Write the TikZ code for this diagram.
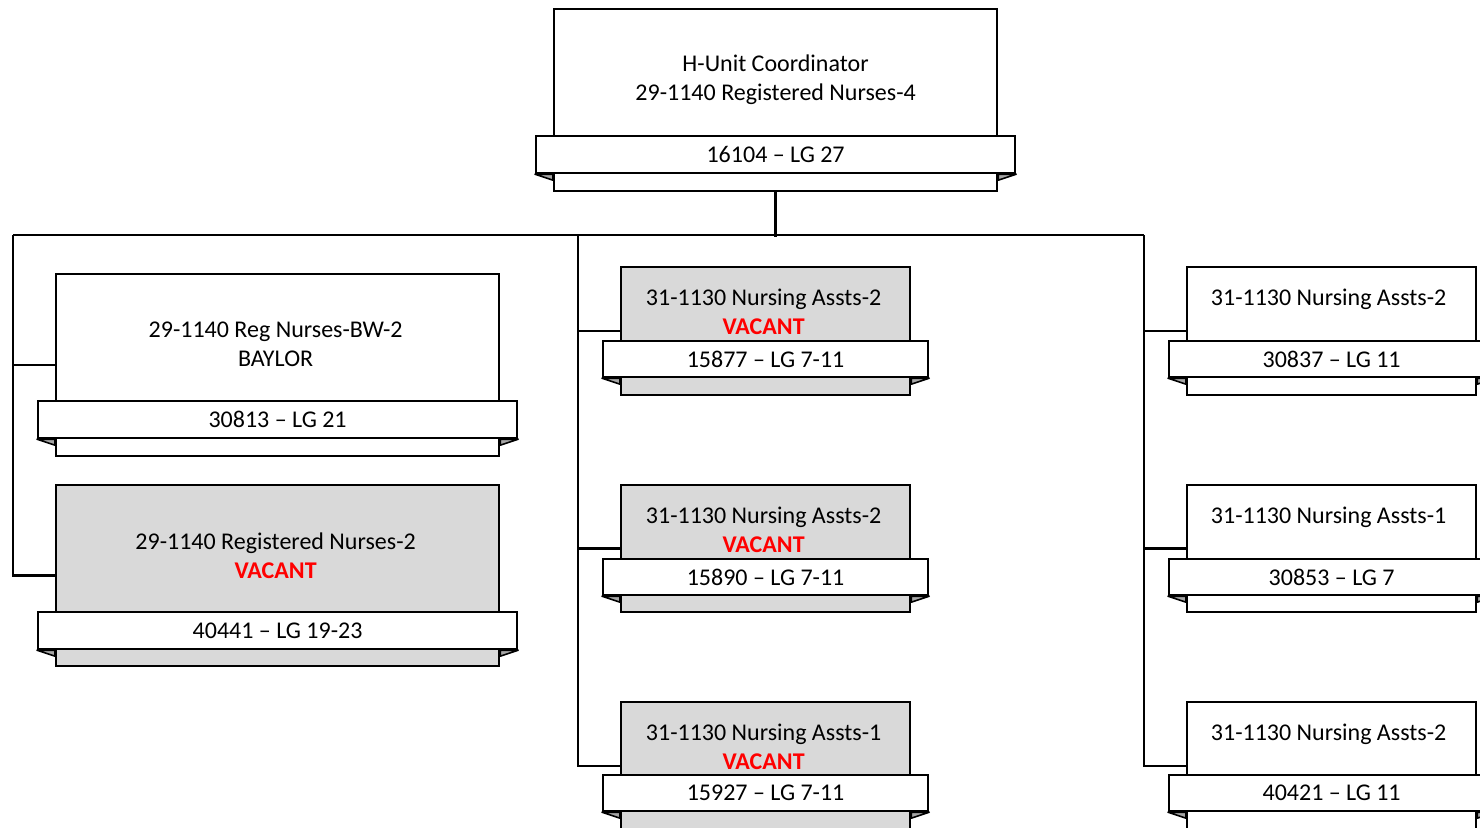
\documentclass[tikz,border=0pt]{standalone}
\usepackage{fontspec}
\setmainfont{Carlito}
\usetikzlibrary{calc}

\definecolor{cardgray}{HTML}{D9D9D9}
\definecolor{foldgray}{HTML}{A6A6A6}
\definecolor{vacred}{HTML}{FF0000}
\newcommand\vacant{\textcolor{vacred}{\bfseries VACANT}}
% little folded ends under a banner
\newcommand\folds[2]{%
  \filldraw[fold] (#1.south west) -- (#2.west |- #1.south) -- ++(0,6) -- cycle;
  \filldraw[fold] (#1.south east) -- (#2.east |- #1.south) -- ++(0,6) -- cycle;}

\begin{document}
\begin{tikzpicture}[x=1pt,y=-1pt,
  card/.style={draw,line width=2.2pt,fill=white,anchor=north west,inner sep=0pt,
    minimum width=#1},
  card/.default=443pt,
  open/.style={fill=cardgray},
  banner/.style={draw,line width=2.2pt,fill=white,anchor=north west,inner sep=0pt,
    minimum width=#1,font=\fontsize{24}{29}\selectfont},
  banner/.default=479pt,
  title/.style={align=center,inner sep=0pt,font=\fontsize{24}{29}\selectfont},
  fold/.style={fill=foldgray,draw,line width=1.6pt,line join=round},
  link/.style={line width=2.6pt}]
  \useasboundingbox (0,0) rectangle (1480,827);
  \clip (0,0) rectangle (1480,827);

  % top
  \node[card,minimum height=182pt] (top) at (553,8) {};
  \node[title] (topT) at ($(top.north)+(0,71.5)$) {H-Unit Coordinator\\29-1140 Registered Nurses-4};
  \node[banner,minimum height=37pt] (topB) at (535,135) {16104 -- LG 27};
  \folds{topB}{top}

  % bus
  \draw[link] (top.south) -- ++(0,45) coordinate (hub);
  \coordinate (colA) at (13,235);
  \coordinate (colB) at (578,235);
  \coordinate (colC) at (1144,235);
  \draw[link] (colA) -- (colC);

  % left
  \node[card,minimum height=182pt] (l1) at (55,273) {};
  \node[title] (l1T) at ($(l1.north)+(-2,71.5)$) {29-1140 Reg Nurses-BW-2\\BAYLOR};
  \node[banner,minimum height=37pt] (l1B) at (37,400) {30813 -- LG 21};
  \folds{l1B}{l1}
  \node[card,open,minimum height=181pt] (l2) at (55,484) {};
  \node[title] (l2T) at ($(l2.north)+(-2,71.5)$) {29-1140 Registered Nurses-2\\\vacant};
  \node[banner,minimum height=37pt] (l2B) at (37,611) {40441 -- LG 19-23};
  \folds{l2B}{l2}
  \draw[link] (colA) |- (l1.west);
  \draw[link] (colA) |- (l2.west);

  % middle
  \node[card=289pt,open,minimum height=128pt] (m1) at (620,266) {};
  \node[title] (m1T) at ($(m1.north)+(-2,46)$) {31-1130 Nursing Assts-2\\\vacant};
  \node[banner=325pt,minimum height=36pt] (m1B) at (602,340) {15877 -- LG 7-11};
  \folds{m1B}{m1}
  \node[card=289pt,open,minimum height=127pt] (m2) at (620,484) {};
  \node[title] (m2T) at ($(m2.north)+(-2,46)$) {31-1130 Nursing Assts-2\\\vacant};
  \node[banner=325pt,minimum height=36pt] (m2B) at (602,558) {15890 -- LG 7-11};
  \folds{m2B}{m2}
  \node[card=289pt,open,minimum height=128pt] (m3) at (620,701) {};
  \node[title] (m3T) at ($(m3.north)+(-2,46)$) {31-1130 Nursing Assts-1\\\vacant};
  \node[banner=325pt,minimum height=36pt] (m3B) at (602,774) {15927 -- LG 7-11};
  \folds{m3B}{m3}
  \draw[link] (colB) |- (m1.west);
  \draw[link] (colB) |- (m2.west);
  \draw[link] (colB) |- (m3.west);

  % right
  \node[card=289pt,minimum height=128pt] (r1) at (1186,266) {};
  \node[title] (r1T) at ($(r1.north)+(-3,33)$) {31-1130 Nursing Assts-2};
  \node[banner=325pt,minimum height=36pt] (r1B) at (1168,340) {30837 -- LG 11};
  \folds{r1B}{r1}
  \node[card=289pt,minimum height=127pt] (r2) at (1186,484) {};
  \node[title] (r2T) at ($(r2.north)+(-3,33)$) {31-1130 Nursing Assts-1};
  \node[banner=325pt,minimum height=36pt] (r2B) at (1168,558) {30853 -- LG 7};
  \folds{r2B}{r2}
  \node[card=289pt,minimum height=128pt] (r3) at (1186,701) {};
  \node[title] (r3T) at ($(r3.north)+(-3,33)$) {31-1130 Nursing Assts-2};
  \node[banner=325pt,minimum height=36pt] (r3B) at (1168,774) {40421 -- LG 11};
  \folds{r3B}{r3}
  \draw[link] (colC) |- (r1.west);
  \draw[link] (colC) |- (r2.west);
  \draw[link] (colC) |- (r3.west);
\end{tikzpicture}
\end{document}
